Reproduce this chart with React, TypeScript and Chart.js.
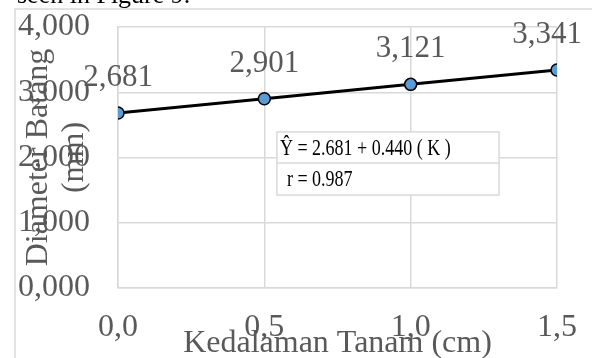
import { useEffect, useRef } from "react";
import { Chart, registerables } from "chart.js";

Chart.register(...registerables);

// ---- Data ----
const depths = [0, 0.5, 1.0, 1.5];
const diameters = [2.681, 2.901, 3.121, 3.341];
const yTickValues = [0, 1, 2, 3, 4];
const xTickValues = [0, 0.5, 1.0, 1.5];
const equationLines = ["Ŷ = 2.681 + 0.440 ( K )", "r = 0.987"];
const captionText = "seen in Figure 9.";
const xTitle = "Kedalaman Tanam (cm)";
const yTitle = ["Diameter Batang", "(mm)"];

const SERIF = "'Liberation Serif', 'Times New Roman', serif";
const GRAY_TEXT = "#595959";
const GRID = "#d9d9d9";

const fmt = (v: number, d: number) => v.toFixed(d).replace(".", ",");

const decorPlugin = {
  id: "decor",
  beforeDraw(chart: any) {
    const ctx = chart.ctx;
    ctx.save();
    ctx.fillStyle = "#ffffff";
    ctx.fillRect(0, 0, chart.width, chart.height);
    // outer frame (cut by the page)
    ctx.strokeStyle = GRID;
    ctx.lineWidth = 1.5;
    ctx.beginPath();
    ctx.moveTo(15, chart.height + 2);
    ctx.lineTo(15, 9);
    ctx.lineTo(chart.width + 2, 9);
    ctx.stroke();
    // caption of the page above
    ctx.fillStyle = "#000000";
    ctx.font = `26px ${SERIF}`;
    ctx.textAlign = "left";
    ctx.textBaseline = "alphabetic";
    ctx.fillText(captionText, 17, 3);
    ctx.restore();
  },
  afterDraw(chart: any) {
    const ctx = chart.ctx;
    const meta = chart.getDatasetMeta(0);
    // data labels
    ctx.save();
    ctx.font = `31px ${SERIF}`;
    ctx.fillStyle = GRAY_TEXT;
    ctx.textAlign = "center";
    ctx.textBaseline = "middle";
    meta.data.forEach((pt: any, i: number) => {
      const label = fmt(diameters[i], 3);
      const w = ctx.measureText(label).width;
      const x = Math.min(pt.x, chart.width - 10 - w / 2);
      ctx.fillText(label, x, pt.y - 35);
    });
    ctx.restore();

    // equation box
    const a = chart.chartArea;
    const W = a.right - a.left;
    const H = a.bottom - a.top;
    const bx0 = a.left + 0.362 * W;
    const bx1 = a.left + 0.868 * W;
    const by0 = a.top + 0.402 * H;
    const byM = a.top + 0.521 * H;
    const by1 = a.top + 0.644 * H;
    ctx.save();
    ctx.fillStyle = "#ffffff";
    ctx.fillRect(bx0, by0, bx1 - bx0, by1 - by0);
    ctx.strokeStyle = GRID;
    ctx.lineWidth = 1.5;
    ctx.strokeRect(bx0, by0, bx1 - bx0, by1 - by0);
    ctx.beginPath();
    ctx.moveTo(bx0, byM);
    ctx.lineTo(bx1, byM);
    ctx.stroke();
    ctx.fillStyle = "#000000";
    ctx.font = `24px ${SERIF}`;
    ctx.textAlign = "left";
    ctx.textBaseline = "middle";
    const drawNarrow = (t: string, x: number, y: number) => {
      ctx.save();
      ctx.translate(x, y);
      ctx.scale(0.75, 1);
      ctx.fillText(t, 0, 0);
      ctx.restore();
    };
    drawNarrow(equationLines[0], bx0 + 3, (by0 + byM) / 2 + 1);
    drawNarrow(equationLines[1], bx0 + 10, (byM + by1) / 2 + 1);
    ctx.restore();
  },
};

export default function App() {
  const ref = useRef<HTMLCanvasElement | null>(null);

  useEffect(() => {
    if (!ref.current) return;
    const chart = new Chart(ref.current, {
      type: "scatter",
      data: {
        datasets: [
          {
            data: depths.map((x, i) => ({ x, y: diameters[i] })),
            showLine: true,
            borderColor: "#000000",
            borderWidth: 3,
            pointRadius: 6,
            pointBackgroundColor: "#5b9bd5",
            pointBorderColor: "#000000",
            pointBorderWidth: 1.5,
          },
        ],
      },
      options: {
        animation: false,
        responsive: false,
        devicePixelRatio: 1,
        layout: { padding: { top: 27, right: 35, left: 0, bottom: 0 } },
        plugins: {
          legend: { display: false },
          tooltip: { enabled: false },
        },
        scales: {
          x: {
            type: "linear",
            min: 0,
            max: 1.5,
            afterBuildTicks: (s: any) => {
              s.ticks = xTickValues.map((v) => ({ value: v }));
            },
            afterFit: (s: any) => {
              s.height = 70;
              s.paddingLeft = 0;
              s.paddingRight = 0;
            },
            ticks: {
              font: { family: SERIF, size: 32 },
              color: GRAY_TEXT,
              padding: 20,
              maxRotation: 0,
              callback: (v: any) => fmt(Number(v), 1),
            },
            grid: { color: GRID, lineWidth: 1.5, drawTicks: false },
            border: { color: GRID, width: 1.5 },
            title: {
              display: true,
              text: xTitle,
              color: GRAY_TEXT,
              font: { family: SERIF, size: 32, lineHeight: 1 },
              padding: { top: 0, bottom: -2 },
            },
          },
          y: {
            type: "linear",
            min: 0,
            max: 4,
            afterBuildTicks: (s: any) => {
              s.ticks = yTickValues.map((v) => ({ value: v }));
            },
            afterFit: (s: any) => {
              s.width = 118;
              s.paddingTop = 0;
              s.paddingBottom = 0;
            },
            ticks: {
              font: { family: SERIF, size: 32 },
              color: GRAY_TEXT,
              padding: 28,
              callback: (v: any) => fmt(Number(v), 3),
            },
            grid: { color: GRID, lineWidth: 1.5, drawTicks: false },
            border: { color: GRID, width: 1.5 },
            title: {
              display: true,
              text: yTitle,
              color: GRAY_TEXT,
              font: { family: SERIF, size: 32, lineHeight: 1.125 },
              padding: { top: 21, bottom: 0 },
            },
          },
        },
      },
      plugins: [decorPlugin],
    });
    return () => chart.destroy();
  }, []);

  return (
    <div style={{ position: "absolute", left: 0, top: 0, width: 592, height: 358, overflow: "hidden" }}>
      <canvas ref={ref} width={592} height={358} style={{ display: "block" }} />
    </div>
  );
}
